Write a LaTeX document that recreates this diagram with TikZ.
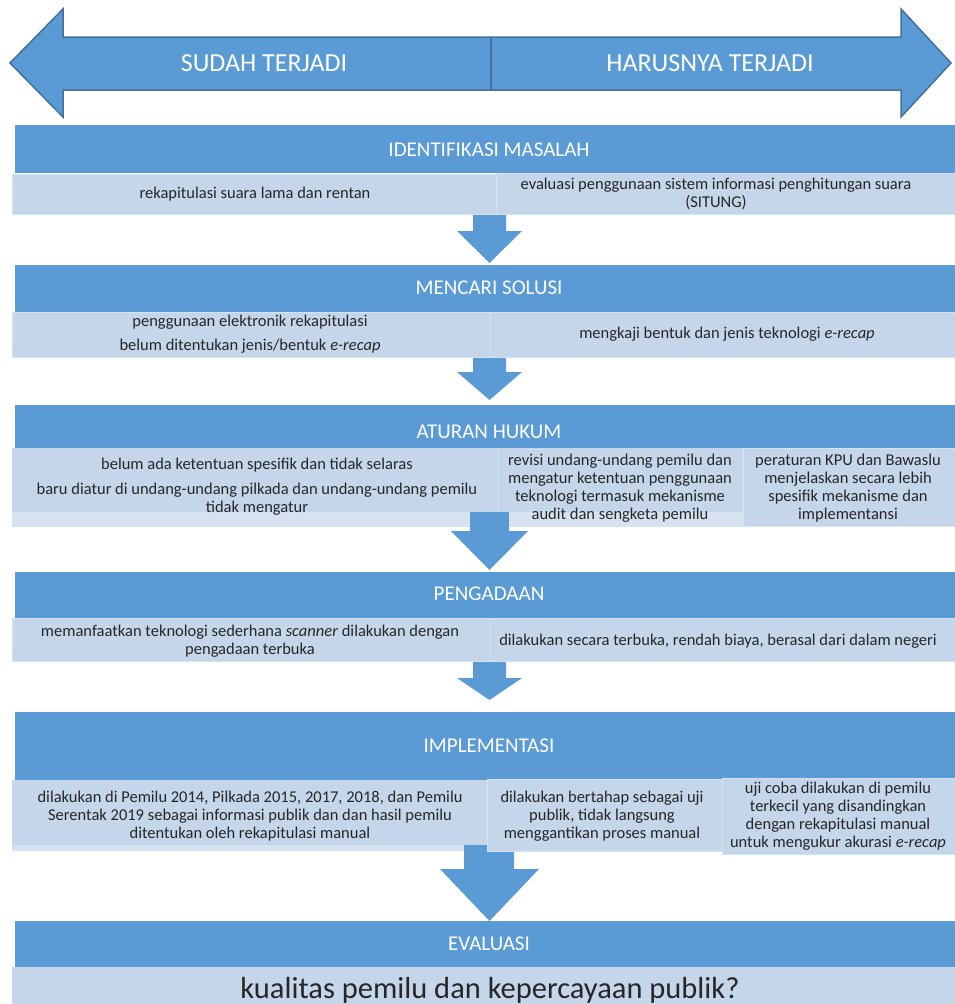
\documentclass[tikz,border=0pt]{standalone}
\usepackage{fontspec}
\setmainfont{Carlito}
\usetikzlibrary{calc}

\definecolor{headblue}{HTML}{5B9BD5}
\definecolor{lineblue}{HTML}{41719C}
\definecolor{cellblue}{HTML}{C5D6EB}
\definecolor{paleblue}{HTML}{D7E2F1}

\begin{document}
\begin{tikzpicture}[x=1pt, y=-1pt,
		header/.style={fill=headblue},
		cell/.style={fill=cellblue, draw=paleblue, line width=0.8pt},
		strip/.style={fill=paleblue},
		title/.style={text=white, anchor=base, inner sep=0pt, font=\fontsize{21}{25}\selectfont},
		body/.style={text=black!85, anchor=base, align=center, inner sep=0pt, font=\fontsize{16.5}{18}\selectfont}]

		\useasboundingbox (0,0) rectangle (955,1004);

		% Draw the double arrow on top
		\draw[fill=headblue, draw=lineblue, line width=1.5pt] (10,63) -- (63,9) -- (63,37) -- (901,37) -- (901,9) -- (951,63) -- (901,117) -- (901,90) -- (63,90) -- (63,117) -- cycle;
		\draw[lineblue, line width=1.5pt] (491,37) -- (491,90);
		\node[title, font=\fontsize{26}{30}\selectfont] (done) at (264,71) {SUDAH TERJADI};
		\node[title, font=\fontsize{26}{30}\selectfont] (should) at (710,71) {HARUSNYA TERJADI};

		% Draw the block arrows between the stages
		\fill[headblue] (473,205) -- (506,205) -- (506,231) -- (522,231) -- (489.5,263) -- (457,231) -- (473,231) -- cycle;
		\fill[headblue] (473,350) -- (506,350) -- (506,372) -- (522,372) -- (489.5,400) -- (457,372) -- (473,372) -- cycle;
		\fill[headblue] (470,505) -- (509,505) -- (509,531) -- (528,531) -- (489.5,570) -- (451,531) -- (470,531) -- cycle;
		\fill[headblue] (473,655) -- (506,655) -- (506,678) -- (522,678) -- (489.5,700) -- (457,678) -- (473,678) -- cycle;
		\fill[headblue] (464,840) -- (514,840) -- (514,869) -- (539,869) -- (489.5,921) -- (440,869) -- (464,869) -- cycle;

		% Identifikasi masalah
		\fill[header] (15,125) rectangle (955,173);
		\draw[cell] (12,174) rectangle (496,214);
		\draw[cell] (496,173) rectangle (955,214);
		\node[title] (identify) at (489,156) {IDENTIFIKASI MASALAH};
		\node[body] (identify-l) at (255,198) {rekapitulasi suara lama dan rentan};
		\node[body] (identify-r) at (716,207) {evaluasi penggunaan sistem informasi penghitungan suara\\(SITUNG)};

		% Mencari solusi
		\fill[header] (15,265) rectangle (955,312);
		\draw[cell] (12,312) rectangle (490,357);
		\draw[cell] (490,312) rectangle (955,357);
		\node[title] (solution) at (489,294) {MENCARI SOLUSI};
		\node[body] (solution-l) at (250,350) {penggunaan elektronik rekapitulasi\\[6pt]belum ditentukan jenis/bentuk \textit{e-recap}};
		\node[body] (solution-r) at (727,338) {mengkaji bentuk dan jenis teknologi \textit{e-recap}};

		% Aturan hukum
		\fill[header] (15,405) rectangle (955,448);
		\fill[strip] (12,448) rectangle (470,527);
		\fill[strip] (509,448) rectangle (743,527);
		\fill[cellblue] (12,448) rectangle (498,512);
		\fill[cellblue] (498,448) rectangle (743,512);
		\draw[cell] (743,448) rectangle (955,526);
		\draw[paleblue, line width=0.8pt] (498,448) -- (498,512);
		\node[title] (law) at (489,438) {ATURAN HUKUM};
		\node[body] (law-l) at (257,512) {belum ada ketentuan spesifik dan tidak selaras\\[7pt]baru diatur di undang-undang pilkada dan undang-undang pemilu\\tidak mengatur};
		\node[body] (law-m) at (620,519) {revisi undang-undang pemilu dan\\mengatur ketentuan penggunaan\\teknologi termasuk mekanisme\\audit dan sengketa pemilu};
		\node[body] (law-r) at (848,519) {peraturan KPU dan Bawaslu\\menjelaskan secara lebih\\spesifik mekanisme dan\\implementansi};

		% Pengadaan
		\fill[header] (15,572) rectangle (955,618);
		\draw[cell] (12,618) rectangle (490,661);
		\draw[cell] (490,618) rectangle (955,661);
		\node[title] (procure) at (489,600) {PENGADAAN};
		\node[body] (procure-l) at (250,654) {memanfaatkan teknologi sederhana \textit{scanner} dilakukan dengan\\pengadaan terbuka};
		\node[body] (procure-r) at (718,645) {dilakukan secara terbuka, rendah biaya, berasal dari dalam negeri};

		% Implementasi
		\fill[header] (15,712) rectangle (955,780);
		\fill[strip] (12,780) rectangle (464,851);
		\fill[cellblue] (12,780) rectangle (487,845);
		\draw[cell] (487,779) rectangle (722,851);
		\draw[cell] (722,778) rectangle (955,854);
		\node[title] (apply) at (489,752) {IMPLEMENTASI};
		\node[body] (apply-l) at (250,838) {dilakukan di Pemilu 2014, Pilkada 2015, 2017, 2018, dan Pemilu\\Serentak 2019 sebagai informasi publik dan dan hasil pemilu\\ditentukan oleh rekapitulasi manual};
		\node[body] (apply-m) at (602,838) {dilakukan bertahap sebagai uji\\publik, tidak langsung\\menggantikan proses manual};
		\node[body] (apply-r) at (838,847) {uji coba dilakukan di pemilu\\terkecil yang disandingkan\\dengan rekapitulasi manual\\untuk mengukur akurasi \textit{e-recap}};

		% Evaluasi
		\fill[header] (15,921) rectangle (955,967);
		\fill[cellblue] (12,967) rectangle (955,1004);
		\node[title] (review) at (489,950) {EVALUASI};
		\node[body, font=\fontsize{30.5}{34}\selectfont] (review-q) at (490,998) {kualitas pemilu dan kepercayaan publik?};

	\end{tikzpicture}
\end{document}
